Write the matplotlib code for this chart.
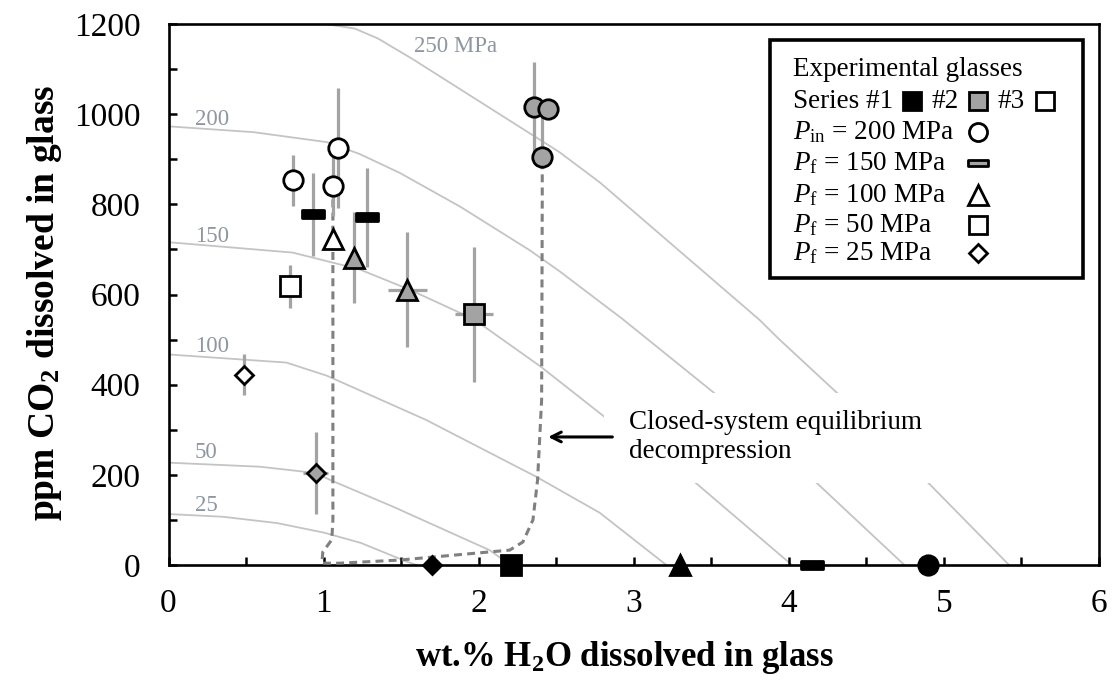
import matplotlib.pyplot as plt
from matplotlib.patches import Rectangle
from matplotlib.path import Path

plt.rcParams['font.family'] = 'Liberation Serif'
plt.rcParams['mathtext.fontset'] = 'custom'
plt.rcParams['mathtext.rm'] = 'Liberation Serif'
plt.rcParams['mathtext.it'] = 'Liberation Serif:italic'
plt.rcParams['mathtext.bf'] = 'Liberation Serif:bold'

# isobars (wt.% H2O, ppm CO2)
iso25_x = [0.0, 0.35, 0.70, 1.00, 1.24, 1.54, 1.60]
iso25_y = [113, 107, 93, 72, 49, 7, 0]
iso50_x = [0.0, 0.59, 0.95, 1.04, 1.45, 2.07, 2.16, 2.22]
iso50_y = [227, 218, 204, 189, 129, 33, 11, 0]
iso100_x = [0.0, 0.76, 1.02, 1.66, 2.37, 2.78, 3.21]
iso100_y = [467, 449, 420, 322, 196, 116, 0]
iso150_x = [0.0, 0.80, 1.23, 1.56, 1.97, 2.40, 2.81, 3.40, 4.02]
iso150_y = [716, 693, 656, 610, 545, 440, 329, 182, 0]
iso200_x = [0.0, 0.55, 1.02, 1.23, 1.49, 1.88, 2.33, 2.52, 2.93, 3.51, 4.18, 4.745]
iso200_y = [973, 960, 938, 912, 870, 795, 698, 652, 545, 384, 182, 0]
iso250_x = [0.95, 1.20, 1.35, 1.575, 2.52, 2.78, 3.81, 3.94, 4.31, 4.90, 5.42]
iso250_y = [1203, 1190, 1168, 1122, 916, 849, 544, 500, 382, 182, 0]
iso_labels = ['25', '50', '100', '150', '200']
iso_label_y = [133, 249, 484, 729, 989]

# closed-system equilibrium decompression path
closed_x = [1.06, 1.06, 1.053, 0.995, 0.989, 1.105, 1.49, 2.07, 2.20, 2.285, 2.35, 2.38, 2.406, 2.41, 2.41]
closed_y = [840, 100, 56, 29, 4, 4, 11, 29, 33, 51, 100, 189, 367, 811, 904]

# Series #1 (black)
s1_diamond_x, s1_diamond_y = [1.70], [0]
s1_square_x, s1_square_y = [2.21], [0]
s1_tri_x, s1_tri_y = [3.30], [0]
s1_circle_x, s1_circle_y = [4.90], [0]
s1_dash_x = [0.93, 1.28, 4.15]
s1_dash_y = [778, 771, 0]
s1_dash_err = [92, 109, 0]

# Series #2 (grey)
s2_circle_x = [2.36, 2.45, 2.41]
s2_circle_y = [1015, 1012, 904]
s2_circle_err = [[100, 0, 0], [100, 0, 90]]
s2_tri_x = [1.195, 1.54]
s2_tri_y = [682, 611]
s2_tri_err = [100, 128]
s2_tri_xerr = [0, 0.125]
s2_square_x, s2_square_y = [1.97], [556]
s2_square_err, s2_square_xerr = [150], [0.12]
s2_diamond_x, s2_diamond_y = [0.95], [204]
s2_diamond_err, s2_diamond_xerr = [90], [0.08]

# Series #3 (open)
s3_circle_x = [0.80, 1.09, 1.06]
s3_circle_y = [853, 924, 840]
s3_circle_err = [57, 133, 65]
s3_tri_x, s3_tri_y = [1.06], [722]
s3_square_x, s3_square_y = [0.785], [618]
s3_square_err = [47]
s3_diamond_x, s3_diamond_y = [0.49], [422]
s3_diamond_err = [46]

GREY = '#a3a3a3'
ISO = '#c4c4c4'
LAB = '#8e96a2'
dash_marker = Path([(-1, -0.32), (1, -0.32), (1, 0.32), (-1, 0.32), (-1, -0.32)],
                   [Path.MOVETO, Path.LINETO, Path.LINETO, Path.LINETO, Path.CLOSEPOLY])

fig = plt.figure(figsize=(11.12, 6.82), dpi=100)
ax = fig.add_axes([168.5 / 1112, 1 - 565 / 682, 930.5 / 1112, 541 / 682])
ax.set_xlim(0, 6)
ax.set_ylim(0, 1200)

for xs, ys in [(iso25_x, iso25_y), (iso50_x, iso50_y), (iso100_x, iso100_y),
               (iso150_x, iso150_y), (iso200_x, iso200_y), (iso250_x, iso250_y)]:
    ax.plot(xs, ys, color=ISO, lw=1.3, zorder=1)
for lab, ly in zip(iso_labels, iso_label_y):
    ax.text(0.17, ly, lab, color=LAB, fontsize=16.5, ha='left', va='center', zorder=2)
ax.text(1.58, 1151, '250 MPa', color=LAB, fontsize=16.5, ha='left', va='center', zorder=2)

# white box behind the annotation
ax.add_patch(Rectangle((2.81, 182), 2.13, 200, fc='white', ec='none', zorder=2))
ax.text(2.97, 317, 'Closed-system equilibrium', fontsize=19.5, ha='left', va='center', zorder=3)
ax.text(2.97, 251, 'decompression', fontsize=19.5, ha='left', va='center', zorder=3)
ax.annotate('', xy=(2.43, 284), xytext=(2.88, 284),
            arrowprops=dict(arrowstyle='->,head_length=0.7,head_width=0.35', lw=2.2, color='black'),
            zorder=3)

ax.plot(closed_x, closed_y, color='#808080', lw=2.2, ls=(0, (2.6, 1.7)), zorder=3)


def pts(x, y, marker, fc, ms, yerr=None, xerr=None):
    if yerr is not None or xerr is not None:
        ax.errorbar(x, y, yerr=yerr, xerr=xerr, fmt='none', ecolor=GREY, elinewidth=2.3,
                    capsize=0, zorder=4)
    ax.plot(x, y, ls='none', marker=marker, ms=ms, mfc=fc, mec='black', mew=2,
            zorder=6, clip_on=False)


pts(s3_circle_x, s3_circle_y, 'o', 'white', 14, yerr=s3_circle_err)
pts(s3_tri_x, s3_tri_y, '^', 'white', 14)
pts(s3_square_x, s3_square_y, 's', 'white', 14, yerr=s3_square_err)
pts(s3_diamond_x, s3_diamond_y, 'D', 'white', 9.5, yerr=s3_diamond_err)

pts(s2_circle_x, s2_circle_y, 'o', GREY, 14, yerr=s2_circle_err)
pts(s2_tri_x, s2_tri_y, '^', GREY, 14, yerr=s2_tri_err, xerr=s2_tri_xerr)
pts(s2_square_x, s2_square_y, 's', GREY, 14, yerr=s2_square_err, xerr=s2_square_xerr)
pts(s2_diamond_x, s2_diamond_y, 'D', GREY, 9.5, yerr=s2_diamond_err, xerr=s2_diamond_xerr)

pts(s1_dash_x, s1_dash_y, dash_marker, 'black', 16, yerr=s1_dash_err)
pts(s1_diamond_x, s1_diamond_y, 'D', 'black', 9.5)
pts(s1_square_x, s1_square_y, 's', 'black', 14)
pts(s1_tri_x, s1_tri_y, '^', 'black', 14)
pts(s1_circle_x, s1_circle_y, 'o', 'black', 14)

ax.set_xticks(range(7))
ax.set_xticks([0.5, 1.5, 2.5, 3.5, 4.5, 5.5], minor=True)
ax.set_yticks(range(0, 1201, 200))
ax.set_yticks(range(100, 1200, 200), minor=True)
ax.tick_params(which='both', direction='in', length=6, width=1.8, labelsize=24, pad=20)
ax.tick_params(axis='x', pad=17)
for sp in ax.spines.values():
    sp.set_linewidth(1.9)

fig.text(624 / 1112, 1 - 657 / 682, r'wt.% H$_\mathbf{2}$O dissolved in glass',
         fontsize=25, fontweight='bold', ha='center', va='center')
fig.text(45 / 1112, 1 - 303 / 682, r'ppm CO$_\mathbf{2}$ dissolved in glass',
         fontsize=27, fontweight='bold', ha='center', va='center', rotation=90)

# legend box, laid out in pixels of the figure
def fx(px):
    return px / 1112


def fy(py):
    return 1 - py / 682


fig.patches.append(Rectangle((fx(770), fy(278)), fx(1083) - fx(770), fy(40) - fy(278),
                             transform=fig.transFigure, fc='white', ec='black', lw=2.6, zorder=10))
LFS = 19.5
fig.text(fx(793), fy(69), 'Experimental glasses', fontsize=LFS, va='center', zorder=11)
fig.text(fx(793), fy(101), 'Series #1', fontsize=LFS, va='center', zorder=11)
fig.text(fx(932), fy(101), '#2', fontsize=LFS, va='center', zorder=11)
fig.text(fx(998), fy(101), '#3', fontsize=LFS, va='center', zorder=11)
leg_rows = [r'$P_\mathrm{in}$ = 200 MPa', r'$P_\mathrm{f}$ = 150 MPa', r'$P_\mathrm{f}$ = 100 MPa',
            r'$P_\mathrm{f}$ = 50 MPa', r'$P_\mathrm{f}$ = 25 MPa']
leg_marks = ['o', dash_marker, '^', 's', 'D']
leg_ms = [13, 14, 14, 13, 9]
leg_fc = ['white', GREY, 'white', 'white', 'white']
row_y = [132, 163, 195, 225, 253]
for txt, mk, ms, fc, ry in zip(leg_rows, leg_marks, leg_ms, leg_fc, row_y):
    fig.text(fx(793), fy(ry), txt, fontsize=LFS, va='center', zorder=11)
    fig.add_artist(plt.Line2D([fx(978)], [fy(ry)], transform=fig.transFigure, marker=mk, ms=ms,
                              mfc=fc, mec='black', mew=2, ls='none', zorder=12))
for px, fc in [(912, 'black'), (978, GREY), (1045, 'white')]:
    fig.add_artist(plt.Line2D([fx(px)], [fy(101)], transform=fig.transFigure, marker='s', ms=13,
                              mfc=fc, mec='black', mew=2, ls='none', zorder=12))

fig.savefig('out.png', dpi=100)
